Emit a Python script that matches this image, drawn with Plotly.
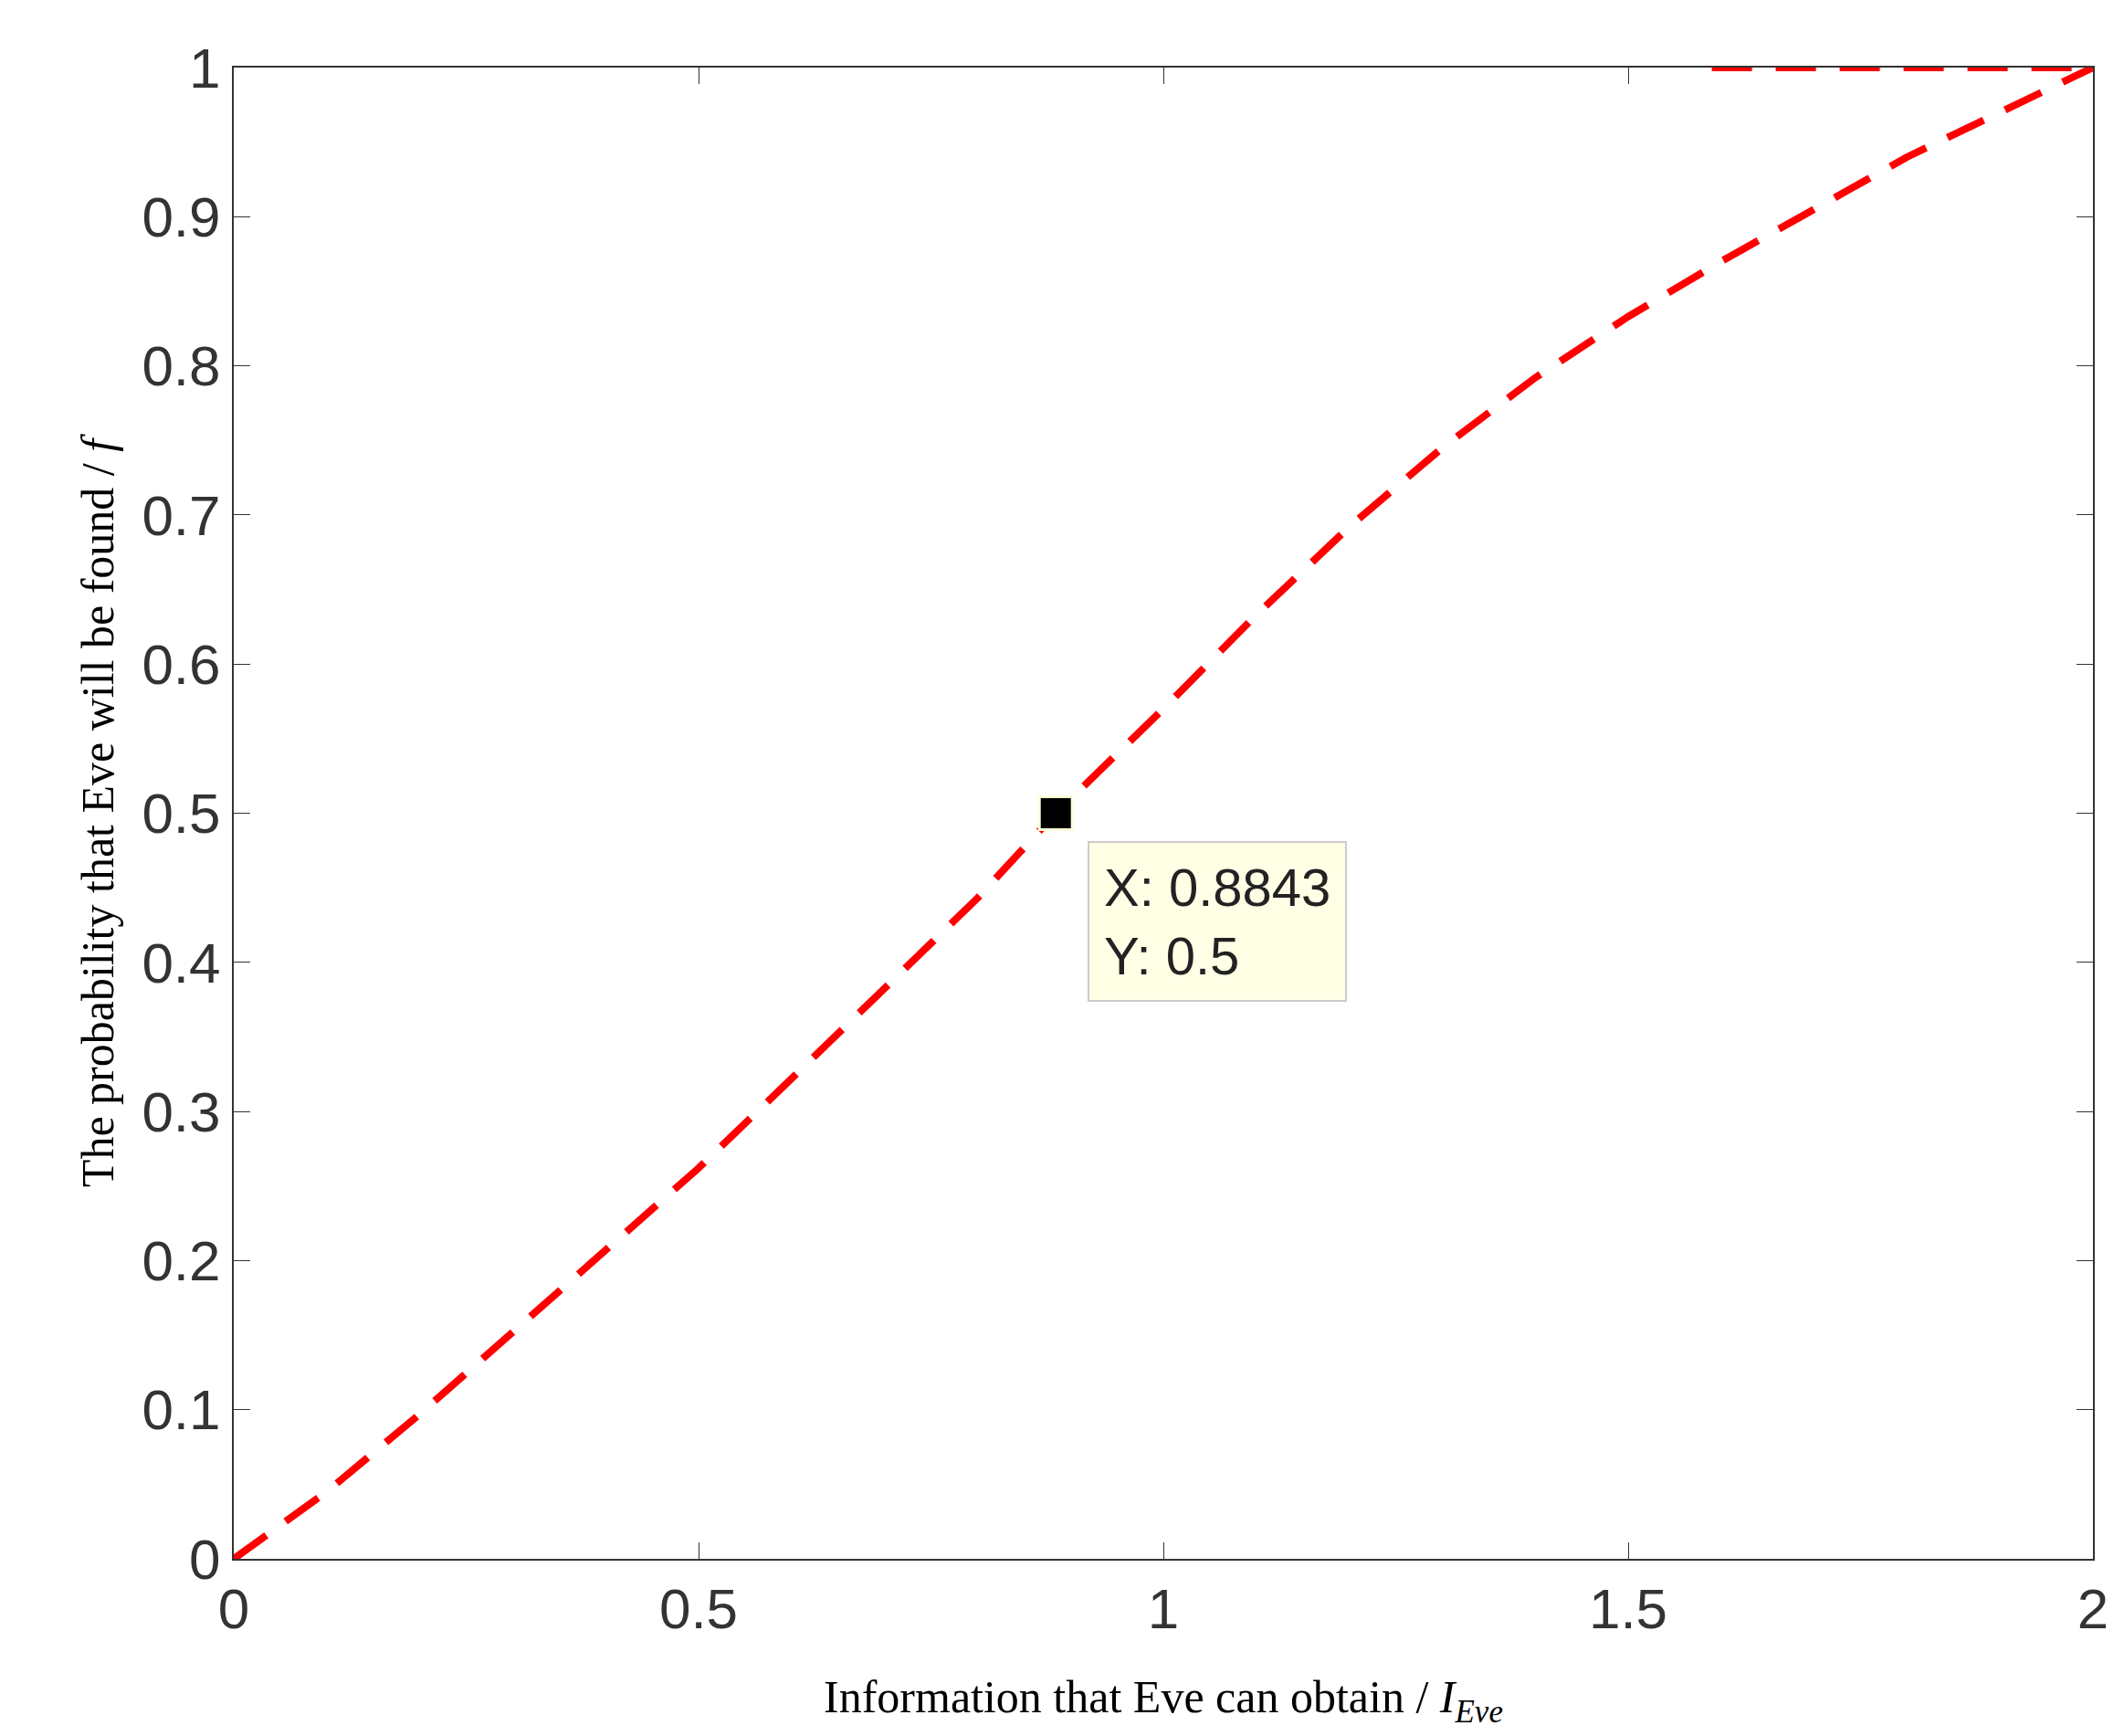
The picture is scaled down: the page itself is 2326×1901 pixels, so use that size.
import plotly.graph_objects as go

# curve
info_eve = [0, 0.1, 0.2, 0.3, 0.4, 0.5, 0.6, 0.7, 0.8, 0.8843, 1.0, 1.1, 1.2, 1.3,
            1.4, 1.5, 1.6, 1.7, 1.8, 1.9, 2.0]
prob_found = [0, 0.045, 0.097, 0.152, 0.207, 0.262, 0.322, 0.382, 0.443, 0.5, 0.57, 0.633,
              0.692, 0.745, 0.792, 0.833, 0.87, 0.905, 0.94, 0.97, 1.0]
# short segment along the top
top_x = [1.59, 2.0]
top_y = [1.0, 1.0]
# data tip
tip_x = [0.8843]
tip_y = [0.5]

red = 'rgb(255,0,0)'
fig = go.Figure()
fig.add_trace(go.Scatter(x=info_eve, y=prob_found, mode='lines',
                         line=dict(color=red, width=8, dash='44px,26px')))
fig.add_trace(go.Scatter(x=top_x, y=top_y, mode='lines',
                         line=dict(color=red, width=8, dash='44px,26px')))
fig.add_trace(go.Scatter(x=tip_x, y=tip_y, mode='markers',
                         marker=dict(symbol='square', size=36, color='black',
                                     line=dict(color='rgb(255,255,220)', width=3))))

fig.add_annotation(x=tip_x[0], y=tip_y[0], xref='x', yref='y',
                   text='X: 0.8843<br>Y: 0.5', showarrow=False, align='left',
                   xanchor='left', yanchor='top', xshift=35, yshift=-30,
                   font=dict(family='Liberation Sans, Arial', size=58, color='#222'),
                   bgcolor='rgb(255,255,230)', bordercolor='#ccc', borderwidth=2,
                   borderpad=16)

axis_common = dict(showgrid=False, zeroline=False, showline=True, linecolor='#333',
                   linewidth=2, mirror='ticks', ticks='inside', ticklen=18,
                   tickcolor='#333',
                   tickfont=dict(family='Liberation Sans, Arial', size=62, color='#333'))
fig.update_xaxes(range=[0, 2], tickvals=[0, 0.5, 1, 1.5, 2],
                 ticktext=['0', '0.5', '1', '1.5', '2'],
                 title=dict(text='Information that Eve can obtain / <i>I<sub>Eve</sub></i>',
                            font=dict(family='Liberation Serif, Times New Roman', size=50,
                                      color='black'), standoff=45),
                 **axis_common)
fig.update_yaxes(range=[0, 1], dtick=0.1, tickformat='.1~f',
                 title=dict(text='The probability that Eve will be found / <i>f</i>',
                            font=dict(family='Liberation Serif, Times New Roman', size=50,
                                      color='black'), standoff=15),
                 **axis_common)
fig.update_layout(width=2326, height=1901, showlegend=False,
                  plot_bgcolor='white', paper_bgcolor='white',
                  margin=dict(l=248, r=42, t=66, b=202))
fig.write_html('out.html')
